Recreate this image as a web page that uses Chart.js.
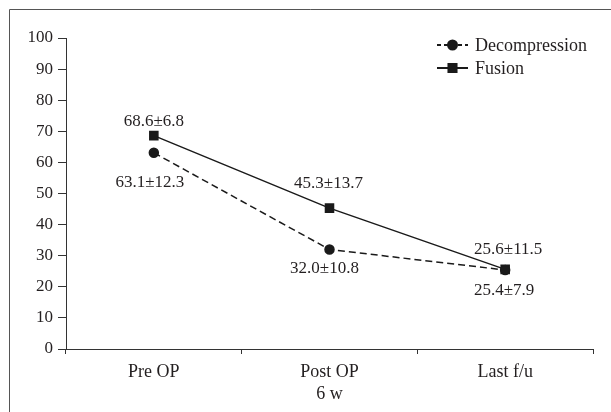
<!DOCTYPE html>
<html lang="en">
<head>
  <meta charset="UTF-8">
  <title>Decompression vs Fusion</title>
  <script src="https://cdn.jsdelivr.net/npm/chart.js"></script>
  <style>
    body {
      margin: 0;
      background-color: #fff;
    }
  </style>
</head>
<body>
  <canvas id="scoreChart" width="611" height="412"></canvas>

  <script>
    const categories = ['Pre OP', ['Post OP', '6 w'], 'Last f/u'];
    const decompressionMean = [63.1, 32.0, 25.4];
    const decompressionSd = [12.3, 10.8, 7.9];
    const fusionMean = [68.6, 45.3, 25.6];
    const fusionSd = [6.8, 13.7, 11.5];
    const yTicks = { min: 0, max: 100, step: 10 };

    const ink = '#231f20';
    const serif = "'Liberation Serif', 'Times New Roman', serif";

    // label offsets (px) relative to each point: [dx, dy]
    const labelShift = {
      0: [[-4, 30], [-5, 19], [-1, 21]],
      1: [[0, -14], [-1, -25], [3, -20]]
    };
    const sds = { 0: decompressionSd, 1: fusionSd };

    const frame = {
      id: 'frame',
      beforeDraw(chart) {
        const c = chart.ctx;
        c.save();
        c.strokeStyle = '#555';
        c.lineWidth = 1;
        c.beginPath();
        c.moveTo(9.5, chart.height);
        c.lineTo(9.5, 9.5);
        c.lineTo(chart.width, 9.5);
        c.stroke();
        c.restore();
      }
    };

    const valueLabels = {
      id: 'valueLabels',
      afterDatasetsDraw(chart) {
        const c = chart.ctx;
        c.save();
        c.font = '17px ' + serif;
        c.fillStyle = ink;
        c.textAlign = 'center';
        c.textBaseline = 'middle';
        chart.data.datasets.forEach((ds, i) => {
          chart.getDatasetMeta(i).data.forEach((pt, j) => {
            const [dx, dy] = labelShift[i][j];
            const txt = ds.data[j].toFixed(1) + '±' + sds[i][j].toFixed(1);
            c.fillText(txt, pt.x + dx, pt.y + dy);
          });
        });
        c.restore();
      }
    };

    const sideLegend = {
      id: 'sideLegend',
      afterDraw(chart) {
        const c = chart.ctx;
        const x0 = 437, x1 = 468, tx = 475;
        let y = 45;
        c.save();
        chart.data.datasets.forEach(ds => {
          c.strokeStyle = ds.borderColor;
          c.lineWidth = 2;
          c.setLineDash(ds.borderDash ? [4, 3] : []);
          c.beginPath();
          c.moveTo(x0, y);
          c.lineTo(x1, y);
          c.stroke();
          c.setLineDash([]);
          Chart.helpers.drawPoint(c, {
            pointStyle: ds.pointStyle,
            radius: ds.pointRadius,
            borderWidth: 1
          }, (x0 + x1) / 2, y);
          c.fillStyle = ds.pointBackgroundColor;
          c.fill();
          c.font = '18px ' + serif;
          c.fillStyle = ink;
          c.textAlign = 'left';
          c.textBaseline = 'middle';
          c.fillText(ds.label, tx, y + 1);
          y += 23;
        });
        c.restore();
      }
    };

    const ctx = document.getElementById('scoreChart').getContext('2d');

    new Chart(ctx, {
      type: 'line',
      data: {
        labels: categories,
        datasets: [
          {
            label: 'Decompression',
            data: decompressionMean,
            borderColor: '#1a1a1a',
            borderWidth: 1.5,
            borderDash: [7, 4],
            pointStyle: 'circle',
            pointRadius: 4.5,
            pointBackgroundColor: '#1a1a1a',
            pointBorderColor: '#1a1a1a',
            tension: 0
          },
          {
            label: 'Fusion',
            data: fusionMean,
            borderColor: '#1a1a1a',
            borderWidth: 1.5,
            pointStyle: 'rect',
            pointRadius: 5.7,
            pointBackgroundColor: '#1a1a1a',
            pointBorderColor: '#1a1a1a',
            tension: 0
          }
        ]
      },
      options: {
        responsive: false,
        animation: false,
        layout: {
          padding: { top: 38, right: 18, left: 0, bottom: 0 }
        },
        plugins: {
          legend: { display: false },
          tooltip: { enabled: false }
        },
        scales: {
          x: {
            offset: true,
            grid: {
              offset: true,
              drawOnChartArea: false,
              tickLength: 5,
              color: '#333'
            },
            border: { display: true, color: '#333', width: 1 },
            ticks: {
              color: ink,
              font: { family: serif, size: 18, lineHeight: 1.25 },
              padding: 7,
              maxRotation: 0
            },
            afterFit(scale) { scale.height = 63; }
          },
          y: {
            min: yTicks.min,
            max: yTicks.max,
            grid: {
              drawOnChartArea: false,
              tickLength: 8,
              color: '#333'
            },
            border: { display: true, color: '#333', width: 1 },
            ticks: {
              stepSize: yTicks.step,
              color: ink,
              font: { family: serif, size: 17 },
              padding: 5
            },
            afterFit(scale) { scale.width = 66; }
          }
        }
      },
      plugins: [frame, valueLabels, sideLegend]
    });
  </script>
</body>
</html>
